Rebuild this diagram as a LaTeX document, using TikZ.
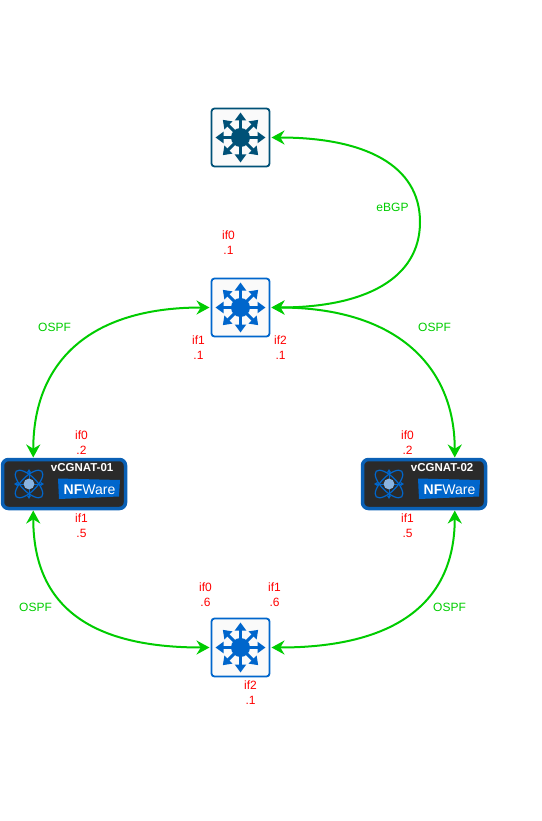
\documentclass[tikz,border=0pt]{standalone}
\usepackage{fontspec}
\setmainfont{Liberation Sans}
\usetikzlibrary{arrows.meta, positioning, calc}
\definecolor{cdark}{HTML}{005177}
\definecolor{cblue}{HTML}{0066CC}
\definecolor{cgreen}{HTML}{00CC00}
\definecolor{cred}{HTML}{FF0000}
\definecolor{cnat}{HTML}{2A2A2A}
\definecolor{cnatline}{HTML}{0A60B5}
\definecolor{catom}{HTML}{8AB4E0}
\begin{document}
\begin{tikzpicture}[
  x=1pt, y=-1pt,
  font=\fontsize{12}{15.5}\selectfont,
  switchbox/.style={draw=#1, line width=1.8pt, fill=black!2, rounded corners=3pt,
    minimum width=58pt, minimum height=58pt, inner sep=0pt, outer sep=0pt},
  natbox/.style={draw=cnatline, line width=3.5pt, fill=cnat, rounded corners=6pt,
    minimum width=123pt, minimum height=49pt, inner sep=0pt, outer sep=0pt},
  link/.style={draw=cgreen, line width=2pt, {Stealth[length=13pt,width=14pt]}-{Stealth[length=13pt,width=14pt]},
    shorten <=2pt, shorten >=2pt},
  iflabel/.style={text=cred, align=center, inner sep=0pt},
  linklabel/.style={text=cgreen, inner sep=0pt},
  natname/.style={text=white, font=\fontsize{11.5}{13}\selectfont\bfseries, inner sep=0pt},
  nflogo/.style={text=white, font=\fontsize{14}{16}\selectfont, inner sep=0pt},
  pics/switchicon/.style={code={
    \fill[#1] (0,0) circle (9.5pt);
    \foreach \a in {0,45,...,315}
      \draw[#1, line width=3pt, -{Triangle[length=8pt,width=11pt]}] (0,0) -- (\a:25pt);
  }},
  pics/atomicon/.style={code={
    \foreach \a in {45,-45}
      \draw[cblue, line width=1.2pt, rotate=\a] (0,0) ellipse (18pt and 7.5pt);
    \foreach \a in {0,90,180,270}
      \draw[cblue, line width=0.8pt, -{Triangle[length=3.5pt,width=4pt]}] (0,0) -- (\a:15pt);
    \fill[catom] (0,0) circle (5.4pt);
  }},
]
\useasboundingbox (0,0) rectangle (541,821);
% Switches
\node[switchbox=cdark] (core) at (240.5,137.5) {};
\node[switchbox=cblue] (dist) at (240.5,307.5) {};
\node[switchbox=cblue] (acc) at (240.5,647.5) {};
\foreach \sw/\col in {core/cdark, dist/cblue, acc/cblue}
  \pic at (\sw) {switchicon=\col};
% NAT boxes
\foreach \nat/\x/\name in {nat1/64/vCGNAT-01, nat2/424/vCGNAT-02}{
  \node[natbox] (\nat) at (\x,484) {};
  \pic at ($(\nat.center)+(-35,0)$) {atomicon};
  \node[natname, anchor=east] (\nat name) at ($(\nat.center)+(49.5,-16.5)$) {\name};
  \fill[cblue] ($(\nat.center)+(-6,-5.5)$) -- ($(\nat.center)+(56,-4)$)
    -- ($(\nat.center)+(55,12.5)$) -- ($(\nat.center)+(-5,15)$) -- cycle;
  \node[nflogo] (\nat logo) at ($(\nat.center)+(25.5,5.5)$) {\textbf{NF}Ware};
}
% Links
\coordinate (bgpbend) at (420,222);
\draw[link] (core.east) .. controls +(95,0) and (420,165) .. (bgpbend)
  .. controls (420,279) and +(95,0) .. (dist.east);
\draw[link] (dist.west) .. controls +(-125,0) and ($(nat1.north)!0.5!(nat1.north west)+(0,-95)$) .. ($(nat1.north)!0.5!(nat1.north west)$);
\draw[link] (dist.east) .. controls +(125,0) and ($(nat2.north)!0.5!(nat2.north east)+(0,-95)$) .. ($(nat2.north)!0.5!(nat2.north east)$);
\draw[link] ($(nat1.south)!0.5!(nat1.south west)$) .. controls +(0,95) and ($(acc.west)+(-125,0)$) .. (acc.west);
\draw[link] ($(nat2.south)!0.5!(nat2.south east)$) .. controls +(0,95) and ($(acc.east)+(125,0)$) .. (acc.east);
% Interface labels
\foreach \n/\x/\y/\a/\b in {
  l1/228.5/242.5/if0/.1,
  l2/198.5/347.5/if1/.1,
  l3/280.5/347.5/if2/.1,
  l4/81.5/442.5/if0/.2,
  l5/81.5/525.5/if1/.5,
  l6/407.5/442.5/if0/.2,
  l7/407.5/525.5/if1/.5,
  l8/205.5/594.5/if0/.6,
  l9/274.5/594.5/if1/.6,
  l10/250.5/692.5/if2/.1%
}{
  \node[iflabel] (\n) at (\x,\y) {\a\\\b};
}
% Link labels
\foreach \n/\x/\y/\t in {
  ebgp/392.5/207/eBGP,
  ospfa/54.5/327/OSPF,
  ospfb/434.5/327/OSPF,
  ospfc/35.5/607/OSPF,
  ospfd/449.5/607/OSPF%
}{
  \node[linklabel] (\n) at (\x,\y) {\t};
}
\end{tikzpicture}
\end{document}
